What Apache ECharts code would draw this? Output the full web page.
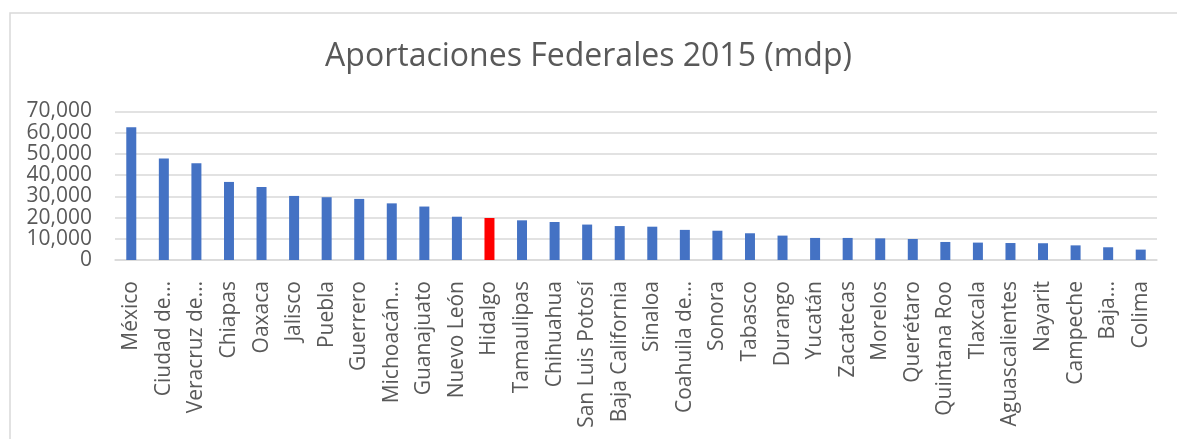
<!DOCTYPE html>
<html>
<head>
<meta charset="utf-8">
<script src="https://cdn.jsdelivr.net/npm/echarts@6/dist/echarts.min.js"></script>
<style>
html, body { margin: 0; padding: 0; background: #fff; }
#main { width: 1177px; height: 439px; }
</style>
</head>
<body>
<div id="main"></div>
<script>
// estados, ordenados de mayor a menor
var estados = ['México', 'Ciudad de…', 'Veracruz de…', 'Chiapas', 'Oaxaca', 'Jalisco', 'Puebla',
	'Guerrero', 'Michoacán…', 'Guanajuato', 'Nuevo León', 'Hidalgo', 'Tamaulipas', 'Chihuahua',
	'San Luis Potosí', 'Baja California', 'Sinaloa', 'Coahuila de…', 'Sonora', 'Tabasco', 'Durango',
	'Yucatán', 'Zacatecas', 'Morelos', 'Querétaro', 'Quintana Roo', 'Tlaxcala', 'Aguascalientes',
	'Nayarit', 'Campeche', 'Baja…', 'Colima'];
// aportaciones en millones de pesos
var aportaciones = [62600, 47800, 45600, 36800, 34400, 30200, 29600, 28800, 26700, 25200, 20400,
	19800, 18700, 17900, 16700, 16000, 15700, 14200, 13800, 12600, 11500, 10400, 10400, 10200,
	9900, 8500, 8200, 8000, 7900, 6900, 6000, 4900];
var resaltado = 'Hidalgo';
var yTicks = [0, 10000, 20000, 30000, 40000, 50000, 60000, 70000];

var myChart = echarts.init(document.getElementById('main'));

var barras = aportaciones.map(function(v, i){
	return {
		value: v,
		itemStyle: { color: estados[i] === resaltado ? '#FF0000' : '#4472C4' }
	};
});

var option = {
	animation: false,
	title: {
		text: 'Aportaciones Federales 2015 (mdp)',
		left: 'center',
		top: 36,
		textStyle: { fontFamily: 'Open Sans', fontWeight: 'normal', fontSize: 32, color: '#595959' }
	},
	graphic: [{
		type: 'rect',
		shape: { x: 10, y: 13, width: 1200, height: 500 },
		style: { fill: 'none', stroke: '#D9D9D9', lineWidth: 1.5 },
		silent: true
	}],
	grid: { left: 115, right: 20, top: 111.5, bottom: 179, outerBoundsMode: 'none', containLabel: false },
	xAxis: {
		type: 'category',
		data: estados,
		axisLine: { lineStyle: { color: '#D9D9D9', width: 1.5 } },
		axisTick: { show: false },
		axisLabel: {
			interval: 0,
			rotate: 90,
			margin: 21,
			hideOverlap: false,
			fontFamily: 'Open Sans',
			fontSize: 21,
			color: '#595959'
		}
	},
	yAxis: {
		type: 'value',
		min: yTicks[0],
		max: yTicks[yTicks.length - 1],
		interval: 10000,
		axisLine: { show: false },
		axisTick: { show: false },
		splitLine: { lineStyle: { color: '#D9D9D9', width: 1.5 } },
		axisLabel: {
			margin: 23,
			showMinLabel: true,
			showMaxLabel: true,
			hideOverlap: false,
			lineHeight: 18,
			fontFamily: 'Open Sans',
			fontSize: 21,
			color: '#595959',
			formatter: function(v){ return v.toLocaleString('en-US'); }
		}
	},
	series: [{
		type: 'bar',
		data: barras,
		barWidth: 10
	}]
};
myChart.setOption(option);
</script>
</body>
</html>
